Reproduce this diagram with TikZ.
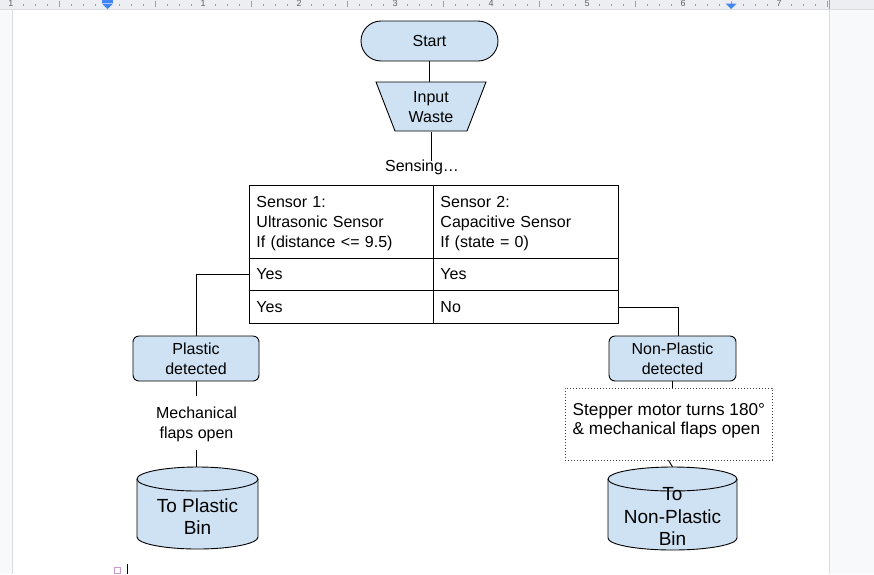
\documentclass[tikz,border=0pt]{standalone}
\usepackage{fontspec}
\setmainfont{Liberation Sans}
\definecolor{boxblue}{HTML}{CFE2F3}
\definecolor{rulerbg}{HTML}{ECEEF1}
\definecolor{sidegray}{HTML}{F8F9FA}
\definecolor{edgegray}{HTML}{DADCE0}
\definecolor{tickgray}{HTML}{9AA0A6}
\definecolor{numgray}{HTML}{5F6368}
\definecolor{gblue}{HTML}{4285F4}
\newcommand\fsnorm{\fontsize{16}{20}\selectfont}
\newcommand\fsstep{\fontsize{17.2}{19.5}\selectfont}
\newcommand\fsbig{\fontsize{19}{22.5}\selectfont}
\newcommand\drawcyl[4]{% x0 x1 ytop ybot
  \pgfmathsetmacro\cxr{(#2-#1)/2}%
  \fill[boxblue] (#1,#3+12) -- (#1,#4-12) arc (180:360:\cxr pt and 12pt) -- (#2,#3+12) arc (0:180:\cxr pt and 12pt) -- cycle;
  \draw[line width=0.9pt] (#1,#3+12) -- (#1,#4-12) arc (180:360:\cxr pt and 12pt) -- (#2,#3+12) arc (0:180:\cxr pt and 12pt) -- cycle;
  \draw[line width=0.9pt] (#1,#3+12) arc (180:360:\cxr pt and 12pt);
}
\begin{document}
\begin{tikzpicture}[x=1pt,y=-1pt,
  lnk/.style={line width=0.9pt},
  flowbox/.style={draw, line width=0.9pt, fill=boxblue, font=\fsnorm, align=center, inner sep=0pt, text depth=0pt},
  cell/.style={draw, line width=0.9pt, font=\fsnorm, align=left, anchor=north west, inner xsep=7pt, inner ysep=0pt},
  plain/.style={font=\fsnorm, align=center, inner sep=0pt, text depth=0pt}]
\useasboundingbox (0,0) rectangle (874,574);
% page background
\fill[sidegray] (0,0) rectangle (874,574);
\fill[white] (12,9) rectangle (829,574);
\draw[edgegray, line width=0.8pt] (12,9) -- (12,574);
\draw[edgegray, line width=0.8pt] (829,9) -- (829,574);
% ruler
\fill[rulerbg] (0,0) rectangle (874,9);
\draw[edgegray, line width=0.8pt] (0,9.4) -- (874,9.4);
\begin{scope}
\clip (0,0) rectangle (874,9);
\foreach \k in {0,...,68}{
  \pgfmathtruncatemacro\md{mod(\k,8)}
  \pgfmathtruncatemacro\mf{mod(\k,4)}
  \pgfmathsetmacro\xx{11+12*\k}
  \pgfmathtruncatemacro\lab{abs(\k/8-1)}
  \ifnum\md=0
    \ifnum\lab>0 \node[font=\fontsize{9}{9}\selectfont, text=numgray, inner sep=0pt] at (\xx,3) {\lab};\fi
  \else
    \ifnum\mf=0
      \draw[tickgray, line width=0.7pt] (\xx,1) -- (\xx,7);
    \else
      \draw[tickgray, line width=0.7pt] (\xx,3.5) -- (\xx,6);
    \fi
  \fi
}
\draw[tickgray, line width=0.8pt] (829,0) -- (829,9);
\fill[gblue] (102,0) rectangle (113,2.5);
\fill[gblue] (102,3.5) -- (113,3.5) -- (107.5,9) -- cycle;
\fill[gblue] (725.5,3.5) -- (736.5,3.5) -- (731,9) -- cycle;
\end{scope}
% start
\node[flowbox, rounded corners=20pt, minimum width=137pt, minimum height=40pt] (start) at (429.5,41) {Start};
% input waste trapezoid
\filldraw[fill=boxblue, line width=0.9pt] (376,82) -- (486,82) -- (467,131) -- (395,131) -- cycle;
\node[plain, minimum width=110pt, minimum height=49pt] (input) at (431,107) {Input\\Waste};
\draw[lnk] (start.south) -- (start.south |- input.north);
% sensing
\node[plain] (sense) at (422,165.5) {Sensing\ldots};
\coordinate (senseTop) at (431,161);
\draw[lnk] (input.south) -- (senseTop);
% table
\node[cell, text width=170pt, minimum height=73pt, text height=15pt] (c11) at (249,185) {Sensor 1:\\Ultrasonic Sensor\\If (distance <= 9.5)};
\node[cell, text width=171pt, minimum height=73pt, text height=15pt] (c12) at (433,185) {Sensor 2:\\Capacitive Sensor\\If (state = 0)};
\node[cell, text width=170pt, minimum height=32pt] (c21) at (249,258) {Yes};
\node[cell, text width=171pt, minimum height=32pt] (c22) at (433,258) {Yes};
\node[cell, text width=170pt, minimum height=33pt] (c31) at (249,290) {Yes};
\node[cell, text width=171pt, minimum height=33pt] (c32) at (433,290) {No};
% detected boxes
\node[flowbox, rounded corners=6pt, minimum width=126pt, minimum height=45pt] (plastic) at (196,358.5) {Plastic\\detected};
\node[flowbox, rounded corners=6pt, minimum width=127pt, minimum height=45pt] (nonplastic) at (672.5,358.5) {Non-Plastic\\detected};
\draw[lnk] (c21.west) -| (plastic.north);
\draw[lnk] (c32.east) -| ([xshift=5.5pt]nonplastic.north);
% plastic branch
\node[plain, inner ysep=11pt] (mech) at (196.5,422.5) {Mechanical\\flaps open};
\node[inner sep=0pt, minimum width=121pt, minimum height=82pt] (bin1) at (197.5,508) {};
\drawcyl{137}{258}{467}{549}
\node[font=\fsbig, align=center, inner sep=0pt, text depth=0pt] at (197.5,516.5) {To Plastic\\Bin};
\draw[lnk] (plastic.south) -- (plastic.south |- mech.north);
\draw[lnk] (plastic.south |- mech.south) -- (plastic.south |- bin1.north);
% non-plastic branch
\node[draw=black!75, line width=0.7pt, dash pattern=on 1pt off 2pt, minimum width=207pt, minimum height=72pt, inner sep=0pt] (stepbox) at (668.5,424) {};
\node[font=\fsstep, align=left, anchor=west, inner sep=0pt, text depth=0pt] at (572.5,419) {Stepper motor turns 180°\\\& mechanical flaps open};
\node[inner sep=0pt, minimum width=129pt, minimum height=83pt] (bin2) at (672.5,508.5) {};
\drawcyl{608}{737}{467}{550}
\node[font=\fsbig, align=center, inner sep=0pt, text depth=0pt] at (672.5,516.5) {To\\Non-Plastic\\Bin};
\draw[lnk] (nonplastic.south) -- (stepbox.north -| nonplastic.south);
\draw[lnk] (stepbox.south) -- (bin2.north);
% cursor marks
\draw[violet!40, line width=0.6pt] (114.5,567.5) rectangle (120.5,573.5);
\draw[black, line width=1pt] (127,564) -- (127,574);
\end{tikzpicture}
\end{document}
